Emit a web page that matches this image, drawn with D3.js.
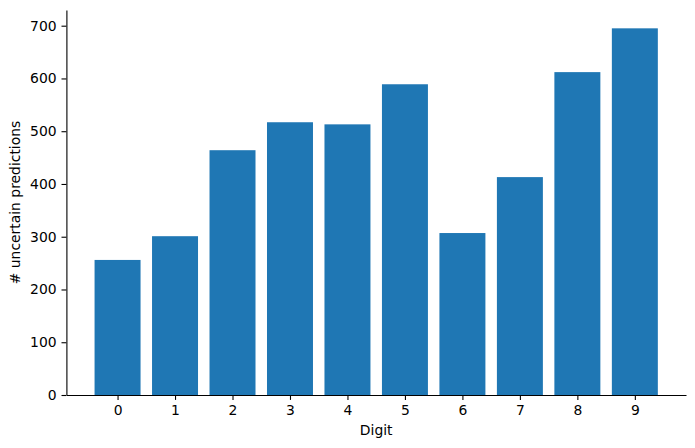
<!DOCTYPE html>
<html>
<head>
<meta charset="utf-8">
<script src="https://cdn.jsdelivr.net/npm/d3@7"></script>
<style>
  body { margin: 0; background: #fff; }
  text { font-family: "DejaVu Sans", sans-serif; }
</style>
</head>
<body>
<div id="chart"></div>
<script>
/* bar chart of uncertain predictions per digit */

const digits = ["0", "1", "2", "3", "4", "5", "6", "7", "8", "9"];
const counts = [256, 301, 464, 517, 513, 589, 307, 413, 612, 695];
const yTicks = [0, 100, 200, 300, 400, 500, 600, 700];

let width = 695,
    height = 448,
    margin = ({ top: 10, right: 9, bottom: 53, left: 66.4 });

const svg = d3.select("#chart")
  .append("svg")
  .attr("width", width)
  .attr("height", height);

// matplotlib style: bars of width 0.8, 5% margins
let x = d3.scaleLinear()
  .domain([-0.89, 9.89])
  .range([margin.left, width - margin.right]);

let y = d3.scaleLinear()
  .domain([0, d3.max(counts) * 1.05])
  .range([height - margin.bottom, margin.top]);

svg.append("g")
  .selectAll("rect")
  .data(counts)
  .join("rect")
  .attr("x", (d, i) => x(i - 0.4))
  .attr("width", x(0.4) - x(-0.4))
  .attr("y", d => y(d))
  .attr("height", d => y(0) - y(d))
  .attr("fill", "#1f77b4");

let xAxis = svg.append("g")
  .attr("transform", `translate(0,${height - margin.bottom})`)
  .call(d3.axisBottom(x)
    .tickValues(d3.range(digits.length))
    .tickFormat(i => digits[i])
    .tickSizeInner(4.9).tickSizeOuter(0).tickPadding(4.9));

let yAxis = svg.append("g")
  .attr("transform", `translate(${margin.left},0)`)
  .call(d3.axisLeft(y)
    .tickValues(yTicks)
    .tickSizeInner(4.9).tickSizeOuter(0).tickPadding(4.9));

for (let g of [xAxis, yAxis]) {
  g.select(".domain").attr("stroke", "#000").attr("stroke-width", 1.1);
  g.selectAll(".tick line").attr("stroke", "#000").attr("stroke-width", 1.1);
  g.selectAll(".tick text")
    .attr("fill", "#000")
    .attr("font-size", "13.9px")
    .attr("font-family", "DejaVu Sans");
}

svg.append("text")
  .text("Digit")
  .attr("x", (margin.left + width - margin.right) / 2)
  .attr("y", 435)
  .attr("text-anchor", "middle")
  .attr("font-size", "13.9px");

svg.append("text")
  .text("# uncertain predictions")
  .attr("transform", `translate(20,${(margin.top + height - margin.bottom) / 2}) rotate(-90)`)
  .attr("text-anchor", "middle")
  .attr("font-size", "13.9px");
</script>
</body>
</html>
